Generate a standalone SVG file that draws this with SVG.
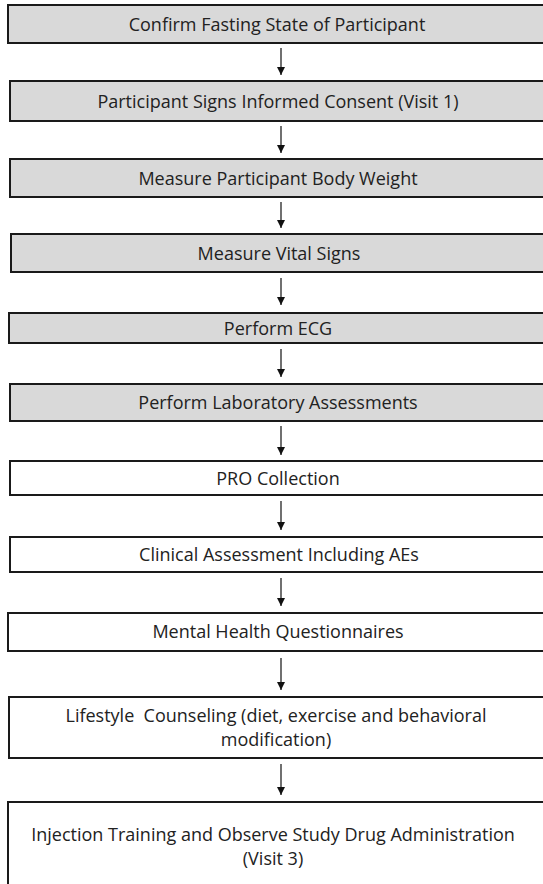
<svg xmlns="http://www.w3.org/2000/svg" width="543" height="884" viewBox="0 0 543 884">
<defs>
<style>
.box{stroke:#1a1a1a;stroke-width:2}
.g{fill:#d9d9d9}
.w{fill:#ffffff}
.t{font-family:"Open Sans","Liberation Sans",Arial,sans-serif;font-size:18px;fill:#222;text-anchor:middle}
.c{stroke:#111;stroke-width:1.2;fill:none}
</style>
<marker id="ah" viewBox="0 0 10 10" refX="10" refY="5" markerWidth="8" markerHeight="8" markerUnits="userSpaceOnUse" orient="auto">
<path d="M0,0 L10,5 L0,10 z" fill="#111"/>
</marker>
</defs>
<rect width="543" height="884" fill="#ffffff"/>
<g id="n1"><rect class="box g" x="8" y="5" width="540" height="38"/><text class="t" x="277" y="31">Confirm Fasting State of Participant</text></g>
<g id="n2"><rect class="box g" x="10" y="81" width="538" height="40"/><text class="t" x="278" y="108">Participant Signs Informed Consent (Visit 1)</text></g>
<g id="n3"><rect class="box g" x="10" y="159" width="538" height="38"/><text class="t" x="278" y="185">Measure Participant Body Weight</text></g>
<g id="n4"><rect class="box g" x="11" y="234" width="537" height="38"/><text class="t" x="279" y="260">Measure Vital Signs</text></g>
<g id="n5"><rect class="box g" x="9" y="313" width="539" height="30"/><text class="t" x="278" y="335">Perform ECG</text></g>
<g id="n6"><rect class="box g" x="10" y="384" width="538" height="37"/><text class="t" x="278" y="409">Perform Laboratory Assessments</text></g>
<g id="n7"><rect class="box w" x="10" y="461" width="538" height="34"/><text class="t" x="278" y="485">PRO Collection</text></g>
<g id="n8"><rect class="box w" x="10" y="537" width="538" height="35"/><text class="t" x="279" y="561">Clinical Assessment Including AEs</text></g>
<g id="n9"><rect class="box w" x="8" y="613" width="540" height="38"/><text class="t" x="278" y="638">Mental Health Questionnaires</text></g>
<g id="n10"><rect class="box w" x="9" y="697" width="539" height="61"/><text class="t" x="276" y="722" xml:space="preserve">Lifestyle  Counseling (diet, exercise and behavioral</text><text class="t" x="276" y="746">modification)</text></g>
<g id="n11"><rect class="box w" x="8" y="802" width="540" height="90"/><text class="t" x="273" y="841">Injection Training and Observe Study Drug Administration</text><text class="t" x="273" y="865">(Visit 3)</text></g>
<g id="connectors">
<line class="c" x1="281" y1="48" x2="281" y2="75" marker-end="url(#ah)"/>
<line class="c" x1="281" y1="126" x2="281" y2="153" marker-end="url(#ah)"/>
<line class="c" x1="281" y1="202" x2="281" y2="228" marker-end="url(#ah)"/>
<line class="c" x1="281" y1="278" x2="281" y2="305" marker-end="url(#ah)"/>
<line class="c" x1="281" y1="349" x2="281" y2="377" marker-end="url(#ah)"/>
<line class="c" x1="281" y1="426" x2="281" y2="455" marker-end="url(#ah)"/>
<line class="c" x1="281" y1="501" x2="281" y2="530" marker-end="url(#ah)"/>
<line class="c" x1="281" y1="578" x2="281" y2="606" marker-end="url(#ah)"/>
<line class="c" x1="281" y1="658" x2="281" y2="690" marker-end="url(#ah)"/>
<line class="c" x1="281" y1="764" x2="281" y2="795" marker-end="url(#ah)"/>
</g>
</svg>
